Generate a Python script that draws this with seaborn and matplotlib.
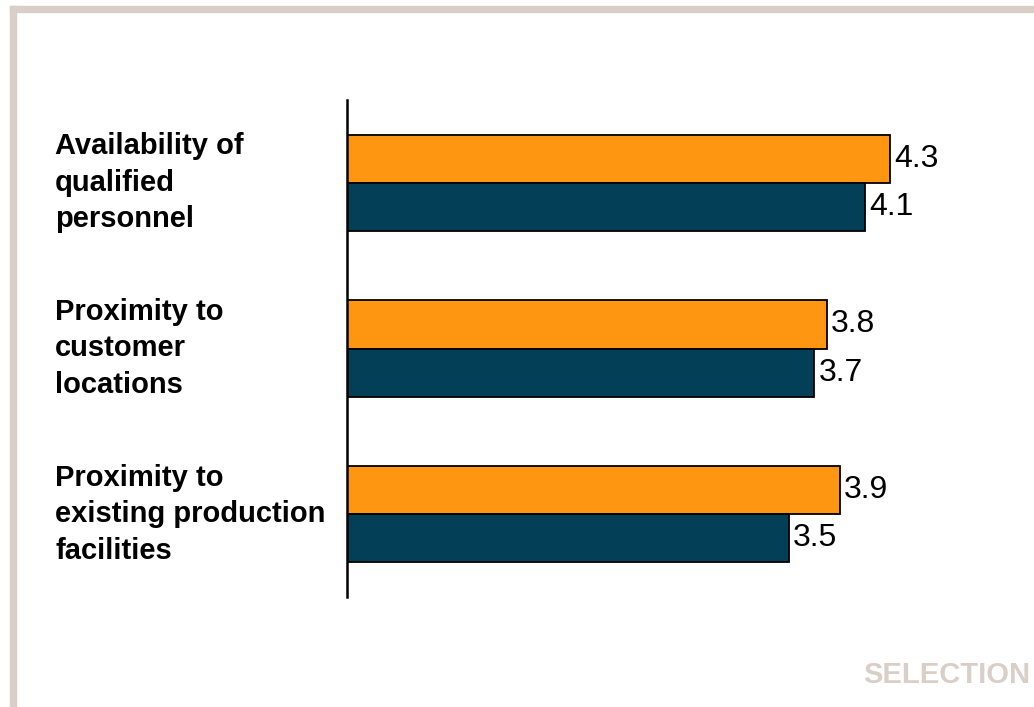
import matplotlib
matplotlib.use("Agg")
import matplotlib.pyplot as plt
from matplotlib import font_manager
from matplotlib.patches import Rectangle
import seaborn as sns
import pandas as pd

categories = ["Availability of\nqualified\npersonnel",
              "Proximity to\ncustomer\nlocations",
              "Proximity to\nexisting production\nfacilities"]
series_names = ["Series 1", "Series 2"]
orange_vals = [4.3, 3.8, 3.9]
teal_vals = [4.1, 3.7, 3.5]
colors = ["#FF9612", "#034057"]
border_col = "#D9CFC7"


def pick_font(names):
    for n in names:
        try:
            font_manager.findfont(n, fallback_to_default=False)
            return n
        except Exception:
            pass
    return "DejaVu Sans"


sns.set_style("white")
fam = pick_font(["Liberation Sans Narrow", "Liberation Sans", "Arial"])
plt.rcParams["font.family"] = [fam, "DejaVu Sans"]
plt.rcParams["text.color"] = "black"
plt.rcParams["ytick.color"] = "black"

df = pd.DataFrame({
    "category": categories * 2,
    "series": [series_names[0]] * 3 + [series_names[1]] * 3,
    "value": orange_vals + teal_vals,
})

W, H = 1034, 707
fig = plt.figure(figsize=(W / 100, H / 100), dpi=100)
ax = fig.add_axes([347 / W, 1 - 597 / H, (1020 - 347) / W, (597 - 100) / H])

sns.barplot(data=df, x="value", y="category", hue="series", palette=colors,
            orient="h", width=0.58, edgecolor="black", linewidth=1.3,
            saturation=1, ax=ax, legend=False)

for c in ax.containers:
    ax.bar_label(c, fmt="%.1f", padding=3, fontsize=23, color="black")

ax.set_xlim(0, (1020 - 347) / 126.3)
ax.set_ylim(2.5, -0.5)
ax.set_xlabel("")
ax.set_ylabel("")
ax.set_xticks([])
for s in ["top", "right", "bottom"]:
    ax.spines[s].set_visible(False)
ax.spines["left"].set_linewidth(1.8)
ax.spines["left"].set_color("black")

ax.tick_params(axis="y", length=0, pad=(347 - 55) * 0.72, labelcolor="black")
for lbl in ax.get_yticklabels():
    lbl.set_horizontalalignment("left")
    lbl.set_verticalalignment("center")
    lbl.set_fontweight("bold")
    lbl.set_fontsize(21)
    lbl.set_linespacing(1.38)

# frame around the slide
fig.patches.append(Rectangle((10 / W, 0), 6 / W, (H - 6) / H,
                             transform=fig.transFigure, color=border_col, zorder=0))
fig.patches.append(Rectangle((10 / W, 1 - 12 / H), 1, 6 / H,
                             transform=fig.transFigure, color=border_col, zorder=0))

fig.text(1030 / W, 1 - 675 / H, "SELECTION", ha="right", va="center",
         fontsize=21, fontweight="bold", color=border_col)

fig.savefig("out.png", dpi=100)
